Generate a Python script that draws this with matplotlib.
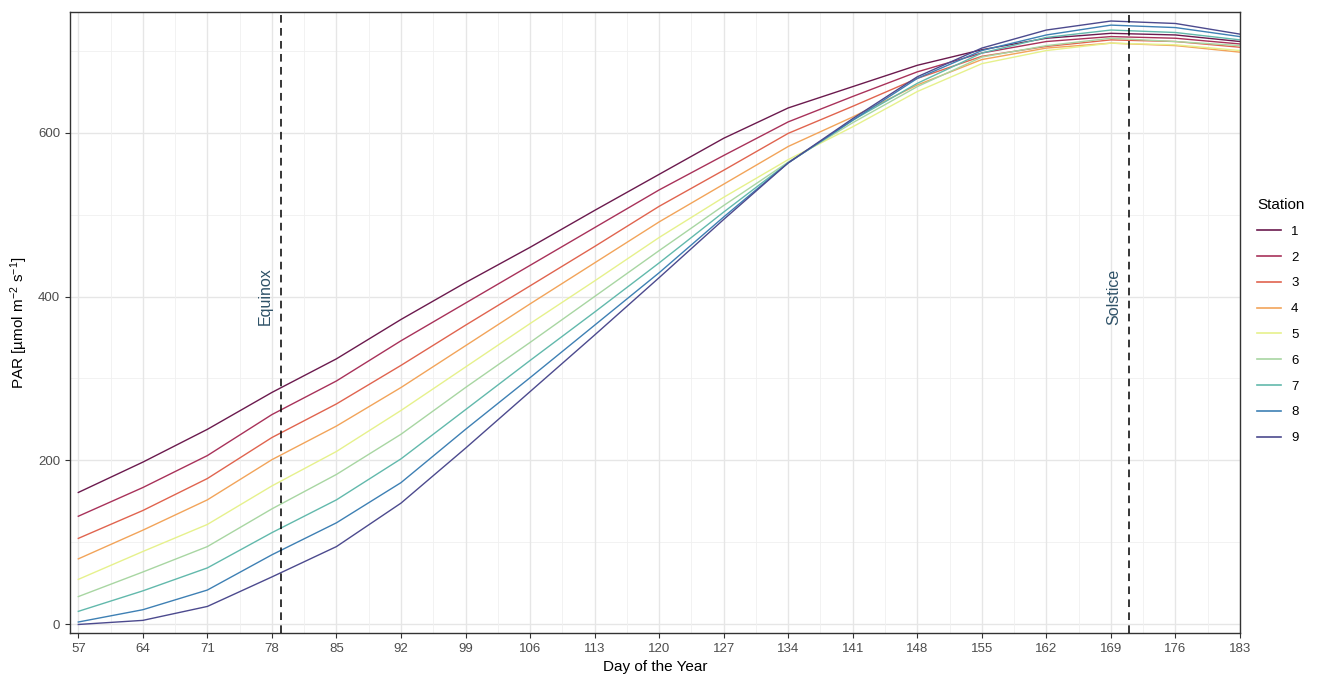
import matplotlib
matplotlib.use("Agg")
import matplotlib.pyplot as plt
from matplotlib.lines import Line2D

# ---------------- data ----------------
days = [57, 64, 71, 78, 85, 92, 99, 106, 113, 120, 127, 134, 141, 148, 155, 162, 169, 176, 183]
station_labels = ["1", "2", "3", "4", "5", "6", "7", "8", "9"]
s1 = [161, 198, 238, 283, 324, 372, 417, 460, 505, 549, 593, 630, 656, 682, 701, 715, 721, 719, 711]
s2 = [132, 167, 206, 256, 297, 346, 392, 438, 484, 530, 572, 613, 644, 674, 697, 711, 717, 715, 708]
s3 = [105, 139, 178, 228, 269, 316, 365, 413, 461, 510, 554, 599, 632, 666, 693, 705, 713, 711, 704]
s4 = [80, 115, 152, 201, 242, 289, 340, 391, 441, 491, 537, 583, 619, 658, 689, 703, 709, 706, 698]
s5 = [55, 89, 122, 169, 211, 261, 314, 367, 419, 472, 521, 567, 607, 650, 684, 700, 709, 707, 700]
s6 = [34, 64, 95, 141, 183, 232, 289, 344, 400, 456, 511, 564, 612, 656, 692, 706, 715, 711, 706]
s7 = [16, 41, 69, 112, 152, 202, 262, 322, 381, 441, 503, 563, 615, 660, 697, 716, 725, 722, 713]
s8 = [3, 18, 42, 85, 124, 173, 238, 301, 365, 429, 497, 563, 615, 666, 700, 719, 731, 728, 717]
s9 = [0, 5, 22, 58, 95, 148, 215, 284, 353, 423, 494, 563, 617, 668, 703, 725, 736, 733, 720]
series = [s1, s2, s3, s4, s5, s6, s7, s8, s9]

x_ticks = [57, 64, 71, 78, 85, 92, 99, 106, 113, 120, 127, 134, 141, 148, 155, 162, 169, 176, 183]
y_ticks = [0, 200, 400, 600]
equinox_day = 79
solstice_day = 171

colors = ["#6B1A4E", "#A8325A", "#E0644F", "#F2A45A", "#E6F18C",
          "#A8D6A2", "#62B9AC", "#3E80B4", "#4C4A8E"]

# ---------------- figure ----------------
plt.rcParams["font.family"] = ["Liberation Sans", "DejaVu Sans"]
plt.rcParams["mathtext.fontset"] = "custom"
plt.rcParams["mathtext.rm"] = "Liberation Sans"
plt.rcParams["mathtext.it"] = "Liberation Sans:italic"

fig = plt.figure(figsize=(13.24, 6.78), dpi=100)
ax = fig.add_axes([70 / 1324, 1 - 633 / 678, (1240 - 70) / 1324, (633 - 12) / 678])

# grid
for v in [100, 300, 500, 700]:
    ax.axhline(v, color="#F0F0F0", lw=0.6, zorder=0)
for v in y_ticks:
    ax.axhline(v, color="#E6E6E6", lw=1.0, zorder=0)
for i in range(len(x_ticks) - 1):
    ax.axvline((x_ticks[i] + x_ticks[i + 1]) / 2, color="#F0F0F0", lw=0.6, zorder=0)
for v in x_ticks:
    ax.axvline(v, color="#E6E6E6", lw=1.0, zorder=0)

for s, c in zip(series, colors):
    ax.plot(days, s, color=c, lw=1.0, zorder=2)

ax.axvline(equinox_day, color="black", lw=1.1, ls=(0, (5, 3.5)), zorder=3)
ax.axvline(solstice_day, color="black", lw=1.1, ls=(0, (5, 3.5)), zorder=3)
ax.text(equinox_day - 1.75, 400, "Equinox", rotation=90, ha="center", va="center",
        fontsize=11.5, color="#2F5268", zorder=4)
ax.text(solstice_day - 1.7, 400, "Solstice", rotation=90, ha="center", va="center",
        fontsize=11.5, color="#2F5268", zorder=4)

ax.set_xlim(56.1, 183)
ax.set_ylim(-10.4, 747)
ax.set_xticks(x_ticks)
ax.set_xticklabels([str(t) for t in x_ticks])
ax.set_yticks(y_ticks)
ax.set_yticklabels([str(t) for t in y_ticks])
ax.tick_params(axis="both", direction="out", length=3.5, width=0.8, color="#333333",
               labelcolor="#4D4D4D", labelsize=9.5)
for sp in ax.spines.values():
    sp.set_color("#333333")
    sp.set_linewidth(1.0)

ax.set_xlabel("Day of the Year", fontsize=11, color="black", labelpad=4)
ax.set_ylabel("PAR [µmol m$^{-2}$ s$^{-1}$]", fontsize=11, color="black", labelpad=6)

handles = [Line2D([0], [0], color=c, lw=1.2) for c in colors]
leg = fig.legend(handles, station_labels, title="Station", loc="upper left",
                 bbox_to_anchor=(1245 / 1324, 1 - 186 / 678), frameon=False,
                 fontsize=9.5, title_fontsize=11, handlelength=1.8,
                 labelspacing=1.03, handletextpad=0.8, alignment="left")

fig.savefig("out.png", dpi=100)
